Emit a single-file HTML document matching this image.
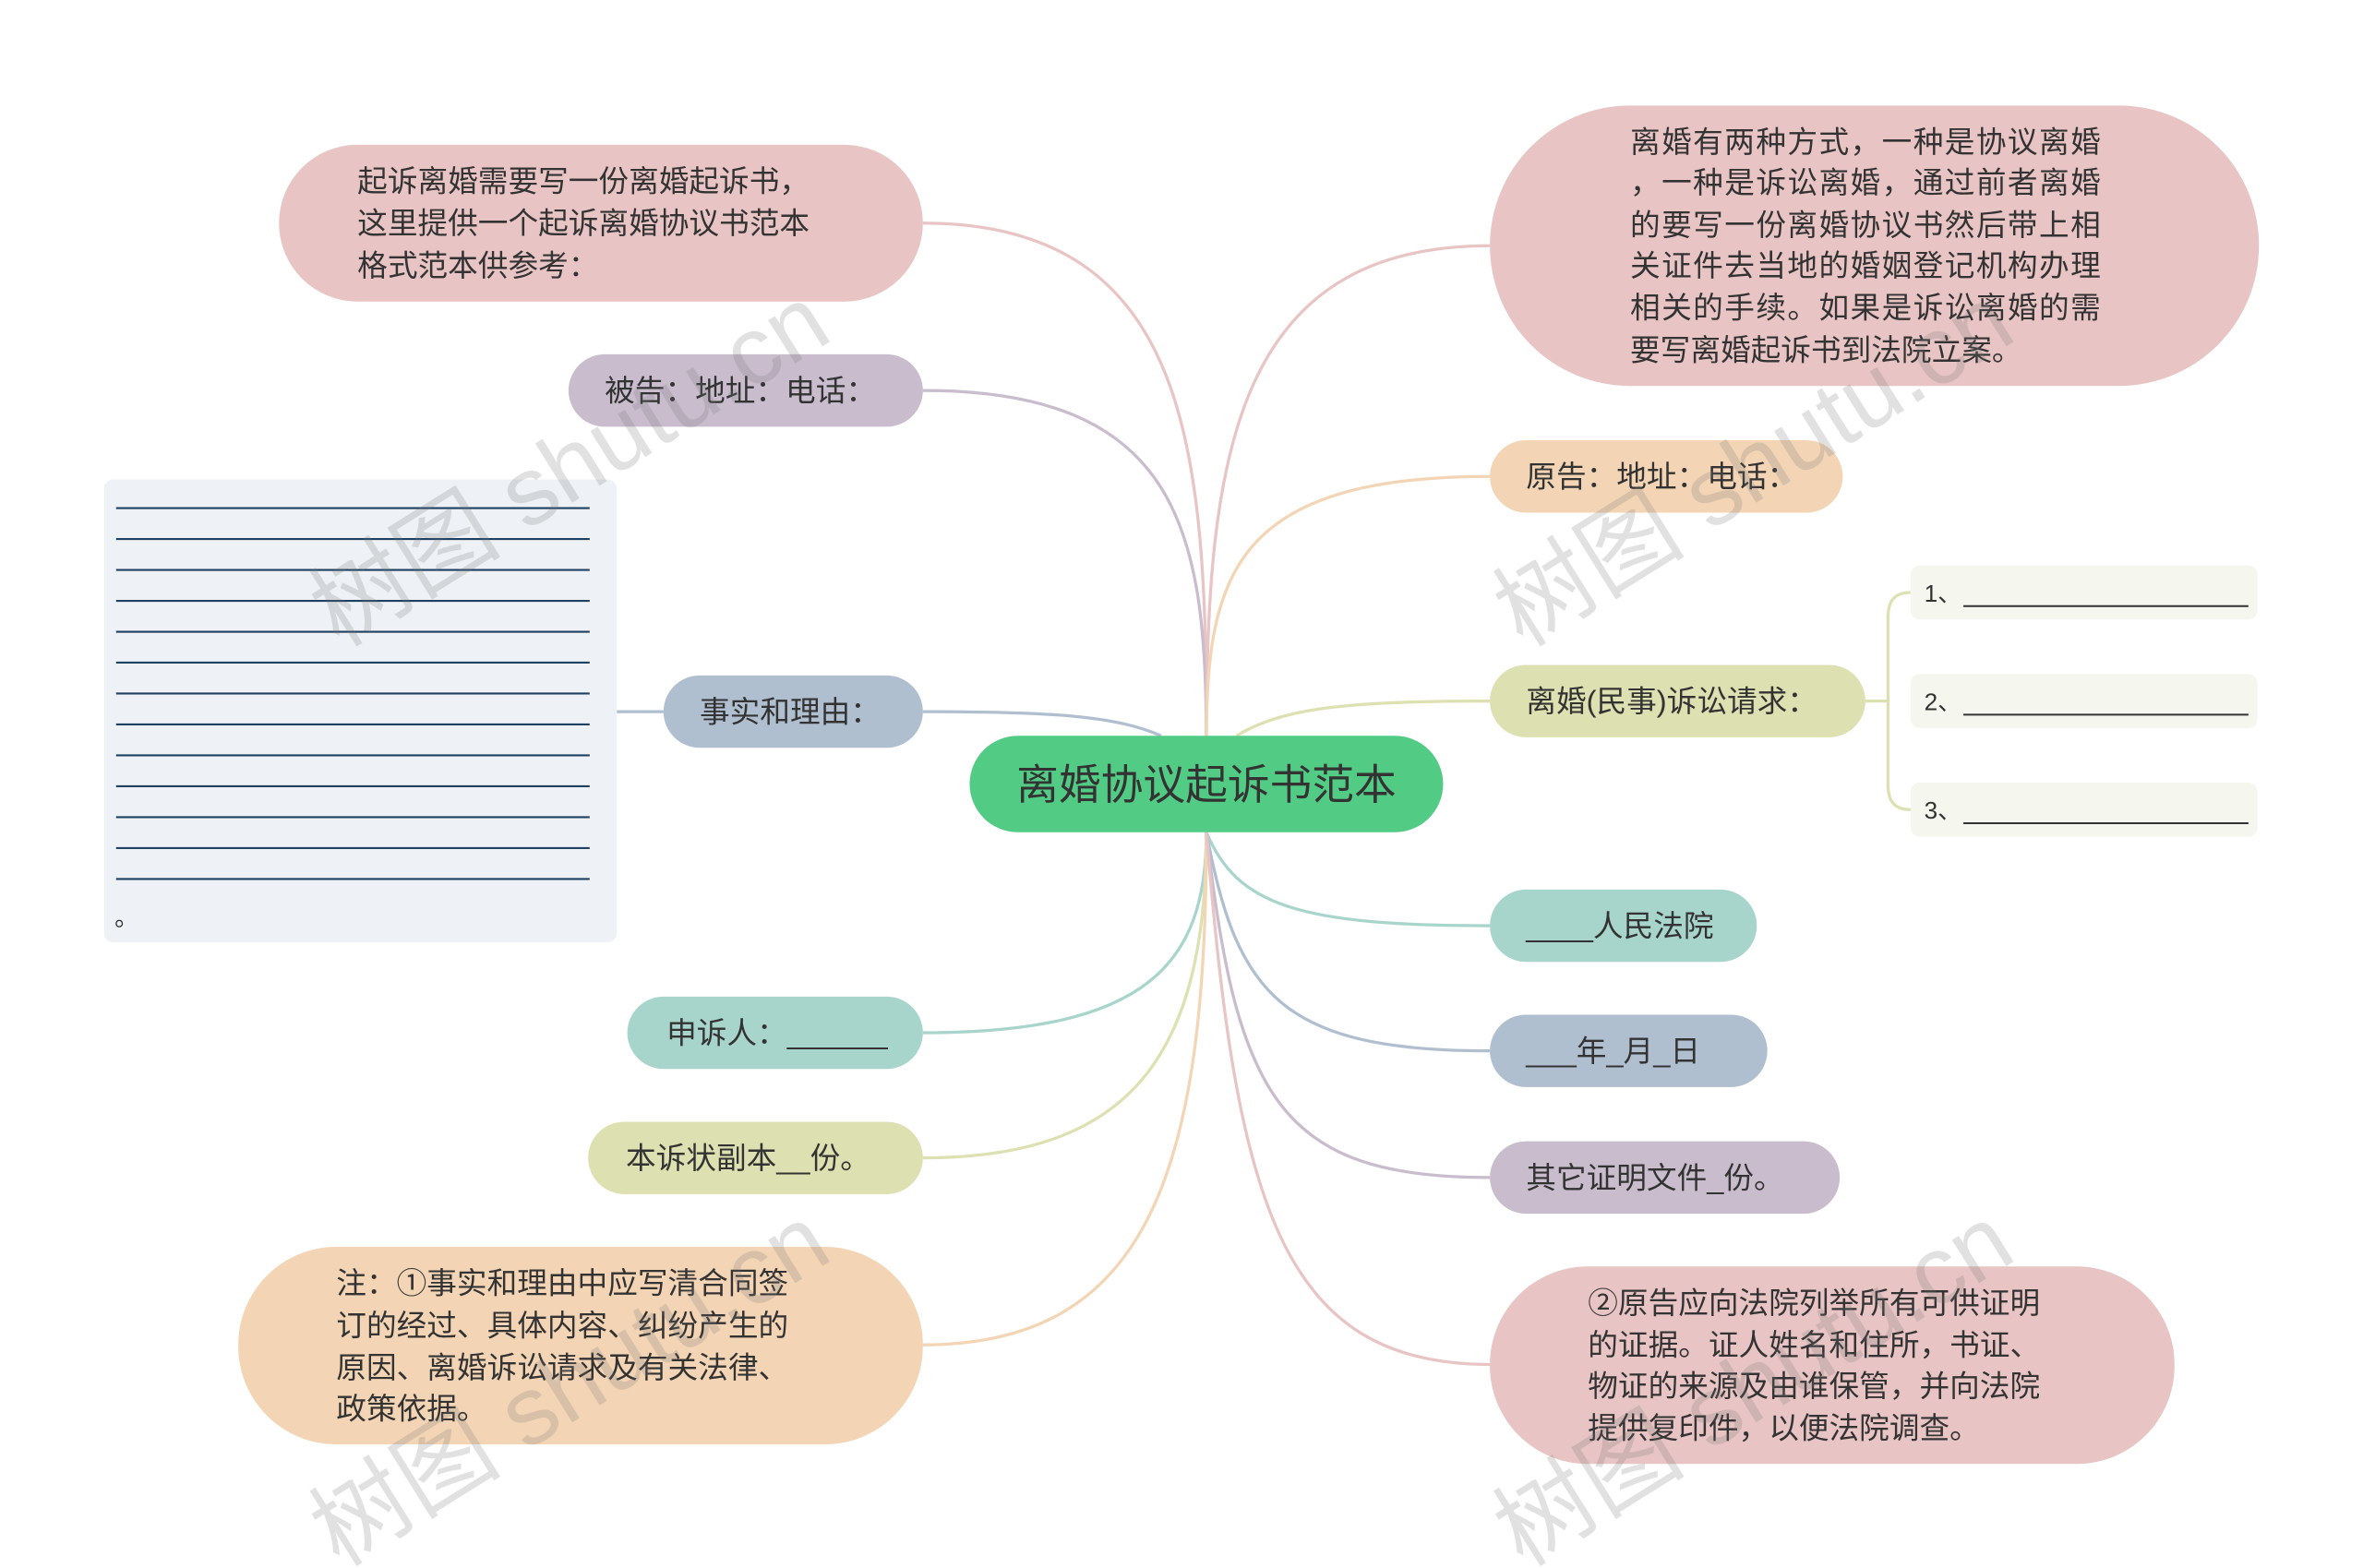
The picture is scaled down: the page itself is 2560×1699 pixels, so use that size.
<!DOCTYPE html>
<html><head><meta charset="utf-8"><style>
html,body{margin:0;padding:0;background:#fff;width:2560px;height:1699px;overflow:hidden}
svg{display:block}
text{font-family:"Liberation Sans","Noto Sans CJK SC",sans-serif;fill:#333}
</style></head><body>
<svg width="2560" height="1699" viewBox="0 0 1567 1040" preserveAspectRatio="none" xmlns="http://www.w3.org/2000/svg">
<g fill="none" stroke-width="2">
<path d="M800 490 C800 300 790 148 612 148" stroke="#e8c4c4"/>
<path d="M800 490 C800 350 780 259 612 259" stroke="#c9bccd"/>
<path d="M770 488 C740 475 700 472 612 472" stroke="#b0bfd0"/>
<path d="M800 552 C800 640 760 685 612 685" stroke="#a8d5cb"/>
<path d="M800 552 C800 700 750 768 612 768" stroke="#dde0b0"/>
<path d="M800 552 C800 780 760 892 612 892" stroke="#f3d5b5"/>
<path d="M800 490 C800 300 820 163 988 163" stroke="#e8c4c4"/>
<path d="M800 490 C800 380 820 316 988 316" stroke="#f3d5b5"/>
<path d="M820 488 C850 470 890 465 988 465" stroke="#dde0b0"/>
<path d="M800 552 C820 600 860 614 988 614" stroke="#a8d5cb"/>
<path d="M800 552 C820 660 850 697 988 697" stroke="#b0bfd0"/>
<path d="M800 552 C820 730 850 781 988 781" stroke="#c9bccd"/>
<path d="M800 552 C820 800 850 905 988 905" stroke="#e8c4c4"/>
<path d="M409 472 L440 472" stroke="#b0bfd0"/>
<path d="M1237 465 L1252 465 M1267 393 C1255 393 1252 400 1252 410 L1252 520 C1252 530 1255 537 1267 537" stroke="#dde0b0"/>
</g>
<rect x="643" y="488" width="314" height="64" rx="32" fill="#52cc85"/>
<text x="800" y="530" font-size="28" text-anchor="middle">离婚协议起诉书范本</text>
<rect x="185" y="96" width="427" height="104" rx="52" fill="#e8c4c4"/>
<text font-size="20"><tspan x="237" y="127">起诉离婚需要写一份离婚起诉书，</tspan><tspan x="237" y="155">这里提供一个起诉离婚协议书范本</tspan><tspan x="237" y="183">格式范本供参考：</tspan></text>
<rect x="377" y="235" width="235" height="48" rx="24" fill="#c9bccd"/>
<text x="401" y="266" font-size="20">被告：地址：电话：</text>
<rect x="440" y="448" width="172" height="48" rx="24" fill="#b0bfd0"/>
<text x="464" y="479" font-size="20">事实和理由：</text>
<rect x="69" y="318" width="340" height="307" rx="6" fill="#eef2f6"/>
<g stroke="#1f4060" stroke-width="1.3">
<line x1="77" y1="337" x2="391" y2="337"/><line x1="77" y1="357.5" x2="391" y2="357.5"/><line x1="77" y1="378" x2="391" y2="378"/><line x1="77" y1="398.5" x2="391" y2="398.5"/><line x1="77" y1="419" x2="391" y2="419"/><line x1="77" y1="439.5" x2="391" y2="439.5"/><line x1="77" y1="460" x2="391" y2="460"/><line x1="77" y1="480.5" x2="391" y2="480.5"/><line x1="77" y1="501" x2="391" y2="501"/><line x1="77" y1="521.5" x2="391" y2="521.5"/><line x1="77" y1="542" x2="391" y2="542"/><line x1="77" y1="562.5" x2="391" y2="562.5"/><line x1="77" y1="583" x2="391" y2="583"/>
</g>
<text x="76" y="614" font-size="16">。</text>
<rect x="416" y="661" width="196" height="48" rx="24" fill="#a8d5cb"/>
<text x="442" y="692" font-size="20">申诉人：______</text>
<rect x="390" y="744" width="222" height="48" rx="24" fill="#dde0b0"/>
<text x="415" y="775" font-size="20">本诉状副本__份。</text>
<rect x="158" y="827" width="454" height="131" rx="65" fill="#f3d5b5"/>
<text font-size="20"><tspan x="223" y="858">注：①事实和理由中应写清合同签</tspan><tspan x="223" y="886">订的经过、具体内容、纠纷产生的</tspan><tspan x="223" y="914">原因、离婚诉讼请求及有关法律、</tspan><tspan x="223" y="941">政策依据。</tspan></text>
<rect x="988" y="70" width="510" height="186" rx="93" fill="#e8c4c4"/>
<text font-size="20"><tspan x="1081" y="101" textLength="312">离婚有两种方式，一种是协议离婚</tspan><tspan x="1081" y="128" textLength="312">，一种是诉讼离婚，通过前者离婚</tspan><tspan x="1081" y="156" textLength="312">的要写一份离婚协议书然后带上相</tspan><tspan x="1081" y="183" textLength="312">关证件去当地的婚姻登记机构办理</tspan><tspan x="1081" y="211" textLength="312">相关的手续。如果是诉讼离婚的需</tspan><tspan x="1081" y="239">要写离婚起诉书到法院立案。</tspan></text>
<rect x="988" y="292" width="234" height="48" rx="24" fill="#f3d5b5"/>
<text x="1012" y="323" font-size="20">原告：地址：电话：</text>
<rect x="988" y="441" width="249" height="48" rx="24" fill="#dde0b0"/>
<text x="1012" y="472" font-size="20">离婚(民事)诉讼请求：</text>
<rect x="1267" y="375" width="230" height="36" rx="6" fill="#f5f7ef"/>
<text x="1276" y="399" font-size="16">1、</text><line x1="1302" y1="402" x2="1491" y2="402" stroke="#333" stroke-width="1.2"/>
<rect x="1267" y="447" width="230" height="36" rx="6" fill="#f5f7ef"/>
<text x="1276" y="471" font-size="16">2、</text><line x1="1302" y1="474" x2="1491" y2="474" stroke="#333" stroke-width="1.2"/>
<rect x="1267" y="519" width="230" height="36" rx="6" fill="#f5f7ef"/>
<text x="1276" y="543" font-size="16">3、</text><line x1="1302" y1="546" x2="1491" y2="546" stroke="#333" stroke-width="1.2"/>
<rect x="988" y="590" width="177" height="48" rx="24" fill="#a8d5cb"/>
<text x="1012" y="621" font-size="20">____人民法院</text>
<rect x="988" y="673" width="184" height="48" rx="24" fill="#b0bfd0"/>
<text x="1012" y="704" font-size="20">___年_月_日</text>
<rect x="988" y="757" width="232" height="48" rx="24" fill="#c9bccd"/>
<text x="1012" y="788" font-size="20">其它证明文件_份。</text>
<rect x="988" y="840" width="454" height="131" rx="65" fill="#e8c4c4"/>
<text font-size="20"><tspan x="1053" y="871">②原告应向法院列举所有可供证明</tspan><tspan x="1053" y="899">的证据。证人姓名和住所，书证、</tspan><tspan x="1053" y="926">物证的来源及由谁保管，并向法院</tspan><tspan x="1053" y="954">提供复印件，以便法院调查。</tspan></text>
<g font-family="Liberation Serif,Noto Serif CJK SC,serif" font-size="64">
<text transform="translate(225,430) rotate(-32)" style="fill:rgba(120,120,120,0.22)">树图 shutu.cn</text>
<text transform="translate(1010,430) rotate(-32)" style="fill:rgba(120,120,120,0.22)">树图 shutu.cn</text>
<text transform="translate(225,1040) rotate(-32)" style="fill:rgba(120,120,120,0.22)">树图 shutu.cn</text>
<text transform="translate(1010,1040) rotate(-32)" style="fill:rgba(120,120,120,0.22)">树图 shutu.cn</text>
</g>
</svg>
</body></html>
